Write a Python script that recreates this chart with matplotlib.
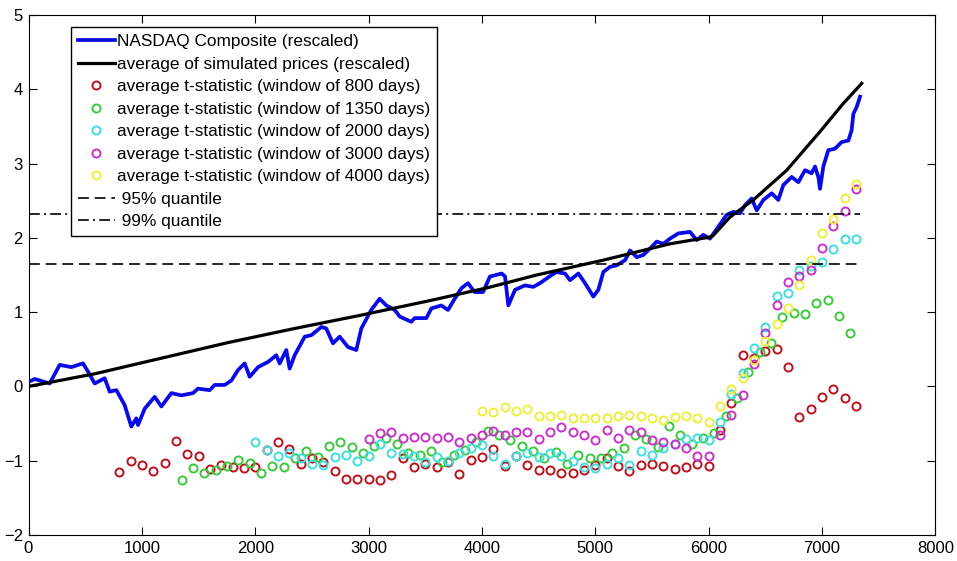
import numpy as np
import matplotlib
matplotlib.use('Agg')
import matplotlib.pyplot as plt

############
# Data     #
############

# NASDAQ composite, rescaled (trading day index, value)
nasdaq_day = [0, 55, 187, 275, 378, 481, 525, 584, 672, 716,
              775, 848, 907, 951, 966, 1025, 1113, 1172, 1260, 1348,
              1451, 1495, 1598, 1643, 1731, 1790, 1848, 1907, 1951, 2025,
              2113, 2186, 2216, 2274, 2304, 2348, 2437, 2495, 2583, 2627,
              2686, 2745, 2819, 2892, 2936, 3024, 3098, 3157, 3231, 3275,
              3377, 3407, 3510, 3554, 3642, 3701, 3760, 3818, 3877, 3936,
              4010, 4071, 4175, 4204, 4233, 4292, 4380, 4453, 4512, 4615,
              4660, 4733, 4777, 4851, 4910, 4983, 5027, 5071, 5130, 5189,
              5263, 5307, 5366, 5425, 5498, 5542, 5601, 5660, 5733, 5836,
              5895, 5953, 6012, 6086, 6159, 6218, 6277, 6321, 6380, 6424,
              6483, 6557, 6615, 6659, 6733, 6792, 6850, 6909, 6939, 6968,
              6983, 7012, 7056, 7115, 7174, 7233, 7262, 7277, 7306, 7336]
nasdaq_val = [0.06, 0.10, 0.04, 0.29, 0.26, 0.31, 0.20, 0.04, 0.11, -0.07,
              -0.05, -0.25, -0.54, -0.43, -0.52, -0.30, -0.14, -0.27, -0.09, -0.12,
              -0.09, -0.03, -0.05, 0.02, 0.02, 0.08, 0.22, 0.31, 0.13, 0.26,
              0.33, 0.42, 0.31, 0.49, 0.24, 0.42, 0.67, 0.69, 0.80, 0.78,
              0.58, 0.67, 0.53, 0.49, 0.78, 1.03, 1.18, 1.09, 1.03, 0.94,
              0.87, 0.92, 0.92, 1.05, 1.09, 1.03, 1.18, 1.32, 1.39, 1.27,
              1.27, 1.48, 1.52, 1.48, 1.09, 1.30, 1.36, 1.34, 1.39, 1.50,
              1.54, 1.52, 1.43, 1.52, 1.39, 1.21, 1.30, 1.54, 1.61, 1.63,
              1.70, 1.83, 1.74, 1.77, 1.88, 1.95, 1.92, 1.99, 2.06, 2.08,
              1.97, 2.04, 1.99, 2.15, 2.31, 2.35, 2.33, 2.44, 2.53, 2.37,
              2.51, 2.60, 2.51, 2.71, 2.82, 2.75, 2.91, 2.87, 2.96, 2.82,
              2.66, 2.96, 3.18, 3.20, 3.29, 3.31, 3.45, 3.67, 3.76, 3.90]

# average of simulated prices, rescaled
sim_day = [0, 584, 1172, 1760, 2348, 2936, 3525, 4054, 4483, 5071,
           5660, 6012, 6040, 6189, 6394, 6689, 6983, 7189, 7351]
sim_val = [0.00, 0.17, 0.38, 0.59, 0.78, 0.96, 1.15, 1.33, 1.50, 1.70,
           1.92, 2.01, 2.03, 2.28, 2.51, 2.91, 3.43, 3.81, 4.08]

# average t-statistic, one value every 100 days
t800_day = np.arange(800, 7301, 100)
t800 = [-1.15, -1.00, -1.06, -1.14, -1.03, -0.73, -0.91, -0.94, -1.11, -1.06,
        -1.08, -1.10, -1.09, -0.85, -0.75, -0.84, -1.04, -0.96, -1.02, -1.14,
        -1.25, -1.24, -1.25, -1.26, -1.19, -0.96, -1.08, -1.05, -1.08, -1.02,
        -1.18, -0.99, -0.95, -0.84, -1.07, -0.93, -1.06, -1.12, -1.13, -1.16,
        -1.16, -1.13, -1.06, -0.96, -1.07, -1.14, -1.06, -1.05, -1.07, -1.11,
        -1.08, -1.05, -1.07, -0.58, -0.22, 0.42, 0.38, 0.48, 0.51, 0.26,
        -0.41, -0.30, -0.14, -0.04, -0.15, -0.27]

t1350_day = np.arange(1350, 7251, 100)
t1350 = [-1.26, -1.10, -1.16, -1.13, -1.07, -0.99, -1.03, -1.16, -1.07, -1.08,
         -0.97, -0.87, -0.95, -0.80, -0.75, -0.81, -0.90, -0.80, -0.70, -0.77,
         -0.89, -0.92, -0.87, -1.02, -0.92, -0.86, -0.75, -0.60, -0.66, -0.72,
         -0.80, -0.87, -0.96, -0.88, -1.04, -0.92, -0.96, -0.97, -0.90, -0.83,
         -0.65, -0.71, -0.81, -0.53, -0.65, -0.77, -0.69, -0.63, -0.40, -0.16,
         0.19, 0.47, 0.59, 0.94, 0.99, 0.97, 1.12, 1.16, 0.95, 0.72]

t2000_day = np.arange(2000, 7301, 100)
t2000 = [-0.75, -0.85, -0.93, -0.89, -0.96, -1.05, -1.06, -0.95, -0.92, -1.00,
         -0.93, -0.77, -0.89, -0.91, -0.93, -1.02, -0.95, -1.01, -0.90, -0.83,
         -0.79, -0.93, -1.04, -0.93, -0.90, -0.95, -0.90, -0.93, -1.00, -1.08,
         -1.10, -1.05, -0.96, -1.06, -0.87, -0.92, -0.83, -0.78, -0.71, -0.70,
         -0.72, -0.48, -0.10, 0.18, 0.52, 0.80, 1.22, 1.26, 1.57, 1.62,
         1.67, 1.85, 1.99, 1.99]

t3000_day = np.arange(3000, 7301, 100)
t3000 = [-0.71, -0.63, -0.62, -0.70, -0.68, -0.68, -0.70, -0.68, -0.75, -0.69,
         -0.66, -0.60, -0.66, -0.62, -0.62, -0.71, -0.62, -0.54, -0.62, -0.65,
         -0.72, -0.58, -0.69, -0.58, -0.62, -0.72, -0.75, -0.77, -0.83, -0.93,
         -0.93, -0.66, -0.39, -0.12, 0.30, 0.72, 1.09, 1.40, 1.49, 1.57,
         1.86, 2.16, 2.36, 2.66]

t4000_day = np.arange(4000, 7301, 100)
t4000 = [-0.33, -0.35, -0.28, -0.33, -0.31, -0.40, -0.40, -0.38, -0.42, -0.42,
         -0.43, -0.43, -0.40, -0.39, -0.40, -0.42, -0.45, -0.41, -0.40, -0.42,
         -0.48, -0.27, -0.04, 0.12, 0.35, 0.61, 0.84, 1.05, 1.37, 1.70,
         2.07, 2.25, 2.53, 2.73]

q95 = 1.645
q99 = 2.326
q_end = 7336

############
# Plot     #
############

plt.rcParams['font.family'] = ['Liberation Sans', 'DejaVu Sans']

fig = plt.figure(figsize=(9.57, 5.61), dpi=100)
ax = fig.add_axes([28.5/957, 1-535/561, 906.8/957, 520/561])

ax.plot(nasdaq_day, nasdaq_val, color='#0a0ae6', lw=2.7, label='NASDAQ Composite (rescaled)')
ax.plot(sim_day, sim_val, color='black', lw=2.3, label='average of simulated prices (rescaled)')

mk = dict(ls='none', marker='o', ms=5.8, mfc='none', mew=1.4)
ax.plot(t800_day, t800, mec='#b8141e', label='average t-statistic (window of 800 days)', **mk)
ax.plot(t1350_day, t1350, mec='#3cc83c', label='average t-statistic (window of 1350 days)', **mk)
ax.plot(t2000_day, t2000, mec='#40dede', label='average t-statistic (window of 2000 days)', **mk)
ax.plot(t3000_day, t3000, mec='#c832c8', label='average t-statistic (window of 3000 days)', **mk)
ax.plot(t4000_day, t4000, mec='#eeee3c', label='average t-statistic (window of 4000 days)', **mk)

ax.plot([0, q_end], [q95, q95], color='black', lw=1.2, dashes=(6.5, 3.5), label=' 95% quantile')
ax.plot([0, q_end], [q99, q99], color='black', lw=1.2, dashes=(6.5, 2.5, 1.2, 2.5), label=' 99% quantile')

ax.set_xlim(0, 8000)
ax.set_ylim(-2, 5)
ax.set_xticks(np.arange(0, 8001, 1000))
ax.set_yticks(np.arange(-2, 6, 1))
ax.tick_params(direction='in', top=True, right=True, length=6, width=0.8,
               labelsize=12, pad=4)
for s in ax.spines.values():
    s.set_linewidth(0.8)

leg = ax.legend(loc='upper left', bbox_to_anchor=(0.0465, 0.976), borderaxespad=0,
                fontsize=12.4, handlelength=2.15, handletextpad=0.15,
                labelspacing=0.43, borderpad=0.4, fancybox=False,
                framealpha=1, edgecolor='black')
leg.get_frame().set_linewidth(1.0)

fig.savefig('out.png', dpi=100)
